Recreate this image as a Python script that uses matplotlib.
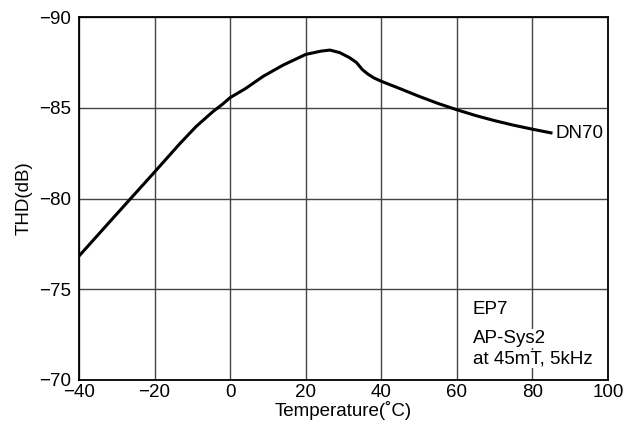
import matplotlib
matplotlib.use("Agg")
import matplotlib.pyplot as plt

plt.rcParams['font.family'] = ['Liberation Sans', 'DejaVu Sans']

temp = [-40, -30, -20, -13.5, -9, -4.5, -2, 0, 4, 8.8, 14, 20, 24, 26.4, 29, 31.6, 33.4, 35, 36.5, 38,
        40, 45, 50, 55, 60, 65, 70, 75, 80, 85.3]
thd = [-76.83, -79.15, -81.46, -82.98, -83.97, -84.8, -85.2, -85.56, -86.05, -86.74, -87.35, -87.94, -88.12,
       -88.18, -88.04, -87.76, -87.5, -87.1, -86.85, -86.65, -86.46, -86.05, -85.63, -85.24, -84.89, -84.57,
       -84.29, -84.04, -83.82, -83.6]

xticks = [-40, -20, 0, 20, 40, 60, 80, 100]
yticks = [-70, -75, -80, -85, -90]

FS = 13.5
fig = plt.figure(figsize=(6.24, 4.26), dpi=100)
ax = fig.add_axes([0.1266, 0.108, 0.8478, 0.852])
ax.plot(temp, thd, color='black', lw=2.2, solid_capstyle='butt', solid_joinstyle='round', zorder=3)
ax.set_xlim(-40, 100)
ax.set_ylim(-70, -90)
ax.set_xticks(xticks)
ax.set_yticks(yticks)
ax.grid(True, color='#444444', lw=1.0)
ax.tick_params(length=0, labelsize=FS, pad=3)
ax.tick_params(axis='y', pad=6)
for s in ax.spines.values():
    s.set_linewidth(1.3)
ax.set_xlabel('Temperature(˚C)', fontsize=FS, labelpad=0)
ax.set_ylabel('THD(dB)', fontsize=FS, labelpad=4)

ax.text(86.2, -83.6, 'DN70', fontsize=FS, va='center', ha='left')
bb = dict(facecolor='white', edgecolor='none', pad=0.5)
ax.text(64.2, -73.86, 'EP7', fontsize=FS, va='center', ha='left', bbox=bb)
ax.text(64.2, -72.3, 'AP-Sys2', fontsize=FS, va='center', ha='left', bbox=bb)
ax.text(64.2, -71.16, 'at 45mT, 5kHz', fontsize=FS, va='center', ha='left', bbox=bb)

fig.savefig('out.png', dpi=100)
